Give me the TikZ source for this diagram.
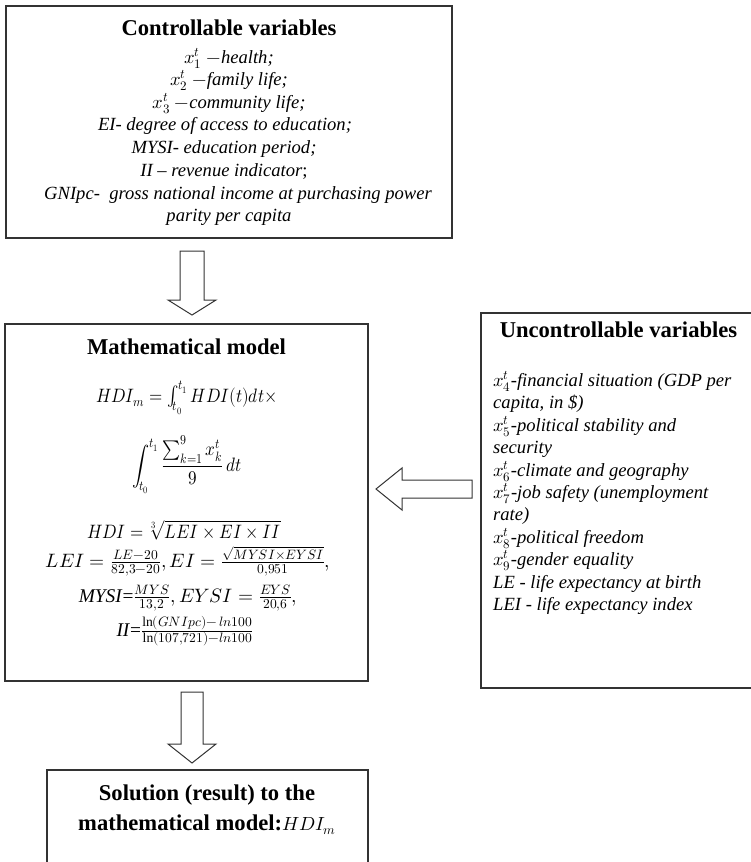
\documentclass[tikz,border=0pt]{standalone}
\usepackage{fontspec}
\usepackage{unicode-math}
\setmainfont{Liberation Serif}[ItalicFont={Liberation Serif Italic},BoldFont={Liberation Serif Bold},BoldItalicFont={Liberation Serif Bold Italic}]
\setmathfont{Latin Modern Math}
\newcommand{\narrow}[1]{\scalebox{0.88}[1]{#1}}
\begin{document}
\begin{tikzpicture}[x=1pt,y=-1pt,
  box/.style={draw=black!80, line width=1.2pt, inner sep=0pt},
  blk/.style={draw=black!80, line width=1pt, fill=white, line join=miter},
  ttl/.style={anchor=base, font=\fontsize{22.6}{26}\selectfont\bfseries, inner sep=0pt},
  txt/.style={anchor=base, font=\fontsize{18.6}{22.3}\selectfont\itshape, inner sep=0pt},
  lft/.style={anchor=base west, font=\fontsize{18.6}{22.3}\selectfont\itshape, inner sep=0pt},
  eq/.style={anchor=base, font=\fontsize{19.4}{22.3}\selectfont, inner sep=0pt}]
\useasboundingbox (0,0) rectangle (751,862);
% boxes
\node[box, minimum width=446pt, minimum height=232pt] (ctrl) at (229,122) {};
\node[box, minimum width=363pt, minimum height=357pt] (model) at (186.5,502.5) {};
\node[box, minimum width=340pt, minimum height=375pt] (unc) at (651,500.5) {};
\node[box, minimum width=321pt, minimum height=130pt] (sol) at (207.5,835) {};
% block arrows
\coordinate (a1) at (192,251);
\draw[blk] (a1) ++(-12,0) -- ++(24,0) -- ++(0,49) -- ++(12,0) -- ++(-24,15) -- ++(-24,-15) -- ++(12,0) -- cycle;
\coordinate (a2) at (192,692);
\draw[blk] (a2) ++(-11,0) -- ++(22,0) -- ++(0,52) -- ++(13,0) -- ++(-24,19) -- ++(-24,-19) -- ++(13,0) -- cycle;
\coordinate (a3) at (472,489);
\draw[blk] (a3) ++(0,-9) -- ++(0,18) -- ++(-70,0) -- ++(0,12) -- ++(-26,-21) -- ++(26,-21) -- ++(0,12) -- cycle;
% controllable
\node[ttl] (c0) at (229,35) {Controllable variables};
\node[txt] (c1) at (229,63) {$x_1^t$ $-$health;};
\node[txt] (c2) at (229,85.5) {$x_2^t$ $-$family life;};
\node[txt] (c3) at (229,108) {$x_3^t$ $-$community life;};
\node[txt] (c4) at (225,130.5) {EI- degree of access to education;};
\node[txt] (c5) at (224,153) {MYSI- education period;};
\node[txt] (c6) at (224,176) {II – revenue indicator\upshape;};
\node[txt] (c7) at (238,199) {GNIpc-\ \ gross national income at purchasing power};
\node[txt] (c8) at (229,221) {parity per capita};
% model
\node[ttl] (m0) at (186.5,354) {Mathematical model};
\node[eq] (m1) at (187,402) {\narrow{$HDI_m = \int_{t_0}^{t_1} HDI(t)dt\times$}};
\node[eq] (m2) at (187,471) {\narrow{$\displaystyle\int_{t_0}^{t_1}\frac{\sum_{k=1}^{9}x_k^t}{9}\,dt$}};
\node[eq] (m3) at (184,538) {\narrow{$HDI = \sqrt[3]{LEI\times EI\times II}$}};
\node[eq] (m4) at (188,567) {$LEI = \frac{LE-20}{82{,}3-20}, EI = \frac{\sqrt{MYSI\times EYSI}}{0{,}951},$};
\node[eq] (m5) at (188,602) {\textit{MYSI}=$\frac{MYS}{13{,}2}, EYSI = \frac{EYS}{20{,}6},$};
\node[eq] (m6) at (185,636) {\textit{II}=$\frac{\ln(GNIpc)-\,ln100}{\ln(107{,}721)-ln100}$};
% uncontrollable
\node[ttl] (u0) at (618.5,337) {Uncontrollable variables};
\node[lft] (u1) at (493,386) {$x_4^t$-financial situation (GDP per};
\node[lft] (u2) at (493,408) {capita, in \$)};
\node[lft] (u3) at (493,431) {$x_5^t$-political stability and};
\node[lft] (u4) at (493,453) {security};
\node[lft] (u5) at (493,476) {$x_6^t$-climate and geography};
\node[lft] (u6) at (493,498) {$x_7^t$-job safety (unemployment};
\node[lft] (u7) at (493,520) {rate)};
\node[lft] (u8) at (493,543) {$x_8^t$-political freedom};
\node[lft] (u9) at (493,565) {$x_9^t$-gender equality};
\node[lft] (u10) at (493,588) {LE - life expectancy at birth};
\node[lft] (u11) at (493,610) {LEI - life expectancy index};
% solution
\node[ttl] (s1) at (207,800) {Solution (result) to the};
\node[ttl] (s2) at (207,830) {mathematical model:\mdseries{\fontsize{19}{22}\selectfont$HDI_m$}};
\end{tikzpicture}
\end{document}
